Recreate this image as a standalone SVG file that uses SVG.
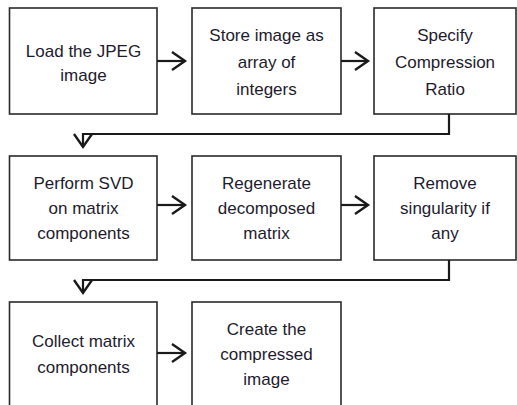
<svg xmlns="http://www.w3.org/2000/svg" width="517" height="405" viewBox="0 0 517 405">
<defs>
<style>
.box{fill:#fff;stroke:#2a2a2a;stroke-width:1.6}
.t{font-family:"Liberation Sans",Arial,sans-serif;font-size:17px;fill:#1e1b2e;text-anchor:middle}
.c{fill:none;stroke:#1a1a1a;stroke-width:2.2}
</style>
<marker id="ah" markerUnits="userSpaceOnUse" markerWidth="18" markerHeight="20" refX="13" refY="9" orient="auto" viewBox="-2 -1 18 20">
<path d="M0,0 L13,9 L0,18" fill="none" stroke="#1a1a1a" stroke-width="2.4"/>
</marker>
</defs>
<rect width="517" height="405" fill="#fff"/>
<g id="n1"><rect class="box" x="9.5" y="8" width="147.5" height="106"/>
<text class="t" x="83.5" y="57">Load the JPEG</text><text class="t" x="83.5" y="81">image</text></g>
<g id="n2"><rect class="box" x="192" y="8" width="149" height="106"/>
<text class="t" x="266.5" y="41">Store image as</text><text class="t" x="266.5" y="68">array of</text><text class="t" x="266.5" y="95">integers</text></g>
<g id="n3"><rect class="box" x="374" y="8" width="142" height="106"/>
<text class="t" x="445" y="41">Specify</text><text class="t" x="445" y="68">Compression</text><text class="t" x="445" y="95">Ratio</text></g>
<g id="n4"><rect class="box" x="9.5" y="156" width="147.5" height="104"/>
<text class="t" x="83.5" y="189">Perform SVD</text><text class="t" x="83.5" y="214">on matrix</text><text class="t" x="83.5" y="239">components</text></g>
<g id="n5"><rect class="box" x="192" y="156" width="149" height="104"/>
<text class="t" x="266.5" y="189">Regenerate</text><text class="t" x="266.5" y="214">decomposed</text><text class="t" x="266.5" y="239">matrix</text></g>
<g id="n6"><rect class="box" x="374" y="156" width="142" height="104"/>
<text class="t" x="445" y="189">Remove</text><text class="t" x="445" y="214">singularity if</text><text class="t" x="445" y="239">any</text></g>
<g id="n7"><rect class="box" x="9.5" y="302" width="147.5" height="110"/>
<text class="t" x="83.5" y="347">Collect matrix</text><text class="t" x="83.5" y="373">components</text></g>
<g id="n8"><rect class="box" x="192" y="302" width="149" height="110"/>
<text class="t" x="266.5" y="335">Create the</text><text class="t" x="266.5" y="360">compressed</text><text class="t" x="266.5" y="385">image</text></g>
<g id="connectors">
<path class="c" d="M157,61 H185" marker-end="url(#ah)"/>
<path class="c" d="M341,61 H368" marker-end="url(#ah)"/>
<path class="c" d="M449,114 V134 H83 V147" marker-end="url(#ah)"/>
<path class="c" d="M157,205 H185" marker-end="url(#ah)"/>
<path class="c" d="M341,205 H368" marker-end="url(#ah)"/>
<path class="c" d="M449,260 V280 H83 V293" marker-end="url(#ah)"/>
<path class="c" d="M157,353 H185" marker-end="url(#ah)"/>
</g>
</svg>
